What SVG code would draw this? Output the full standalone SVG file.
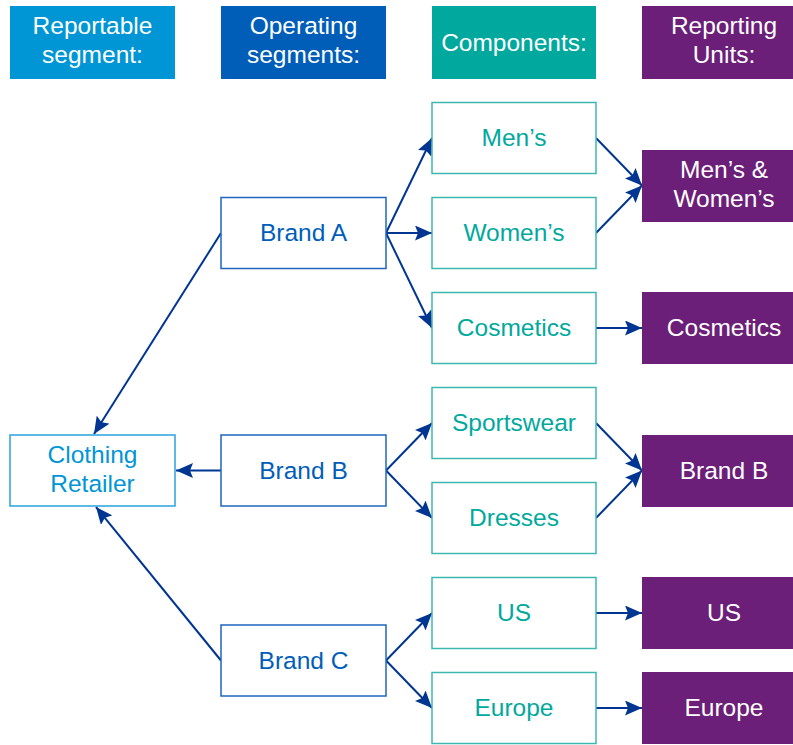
<svg xmlns="http://www.w3.org/2000/svg" width="793" height="745" viewBox="0 0 793 745">
<defs>
<marker id="ah" markerUnits="userSpaceOnUse" markerWidth="17" markerHeight="15" refX="17" refY="7.5" orient="auto">
<path d="M0,0 L17,7.5 L0,15 L3,7.5 Z" fill="#003591"/>
</marker>
<style>
text{font-family:"Liberation Sans",Arial,sans-serif;font-size:24.5px;text-anchor:middle}
.hdr text{fill:#ffffff}
.wt{fill:#ffffff}
.lb{fill:#0096D6}
.db{fill:#005EB8}
.tl{fill:#00A99D}
.n1 rect{fill:#ffffff;stroke:#29A3DD;stroke-width:1.5}
.n2 rect{fill:#ffffff;stroke:#1F66BD;stroke-width:1.5}
.n3 rect{fill:#ffffff;stroke:#3DB8B0;stroke-width:1.5}
.n4 rect{fill:#6C1F78}
#connectors line{stroke:#003591;stroke-width:2;marker-end:url(#ah)}
</style>
</defs>
<rect width="793" height="745" fill="#ffffff"/>
<g id="headers" class="hdr">
<g id="h1"><rect x="10" y="6" width="165" height="73" fill="#0096D6"/><text x="92.5" y="34">Reportable</text><text x="92.5" y="63">segment:</text></g>
<g id="h2"><rect x="221" y="6" width="165" height="73" fill="#005EB8"/><text x="303.5" y="34">Operating</text><text x="303.5" y="63">segments:</text></g>
<g id="h3"><rect x="432" y="6" width="164" height="73" fill="#00A89D"/><text x="514" y="50.5">Components:</text></g>
<g id="h4"><rect x="642" y="6" width="164" height="73" fill="#6C1F78"/><text x="724" y="34">Reporting</text><text x="724" y="63">Units:</text></g>
</g>
<g id="connectors">
<line x1="221" y1="233" x2="94" y2="434"/>
<line x1="221" y1="470.5" x2="176" y2="470.5"/>
<line x1="221" y1="660.5" x2="96" y2="507"/>
<line x1="386" y1="233" x2="432" y2="138"/>
<line x1="386" y1="233" x2="432" y2="233"/>
<line x1="386" y1="233" x2="432" y2="328"/>
<line x1="596" y1="138" x2="642" y2="185.5"/>
<line x1="596" y1="233" x2="642" y2="185.5"/>
<line x1="596" y1="328" x2="642" y2="328"/>
<line x1="386" y1="470.5" x2="432" y2="423"/>
<line x1="386" y1="470.5" x2="432" y2="518"/>
<line x1="596" y1="423" x2="642" y2="470.5"/>
<line x1="596" y1="518" x2="642" y2="470.5"/>
<line x1="386" y1="660.5" x2="432" y2="613"/>
<line x1="386" y1="660.5" x2="432" y2="708"/>
<line x1="596" y1="613" x2="642" y2="613"/>
<line x1="596" y1="708" x2="642" y2="708"/>
</g>
<g id="clothing-retailer" class="n1"><rect x="10" y="435" width="165" height="71"/><text class="lb" x="92.5" y="463">Clothing</text><text class="lb" x="92.5" y="492">Retailer</text></g>
<g id="brand-a" class="n2"><rect x="221" y="197.5" width="165" height="71"/><text class="db" x="303.5" y="241">Brand A</text></g>
<g id="brand-b" class="n2"><rect x="221" y="435" width="165" height="71"/><text class="db" x="303.5" y="478.5">Brand B</text></g>
<g id="brand-c" class="n2"><rect x="221" y="625" width="165" height="71"/><text class="db" x="303.5" y="668.5">Brand C</text></g>
<g id="mens" class="n3"><rect x="432" y="102.5" width="164" height="71"/><text class="tl" x="514" y="146">Men’s</text></g>
<g id="womens" class="n3"><rect x="432" y="197.5" width="164" height="71"/><text class="tl" x="514" y="241">Women’s</text></g>
<g id="cosmetics" class="n3"><rect x="432" y="292.5" width="164" height="71"/><text class="tl" x="514" y="336">Cosmetics</text></g>
<g id="sportswear" class="n3"><rect x="432" y="387.5" width="164" height="71"/><text class="tl" x="514" y="431">Sportswear</text></g>
<g id="dresses" class="n3"><rect x="432" y="482.5" width="164" height="71"/><text class="tl" x="514" y="526">Dresses</text></g>
<g id="us" class="n3"><rect x="432" y="577.5" width="164" height="71"/><text class="tl" x="514" y="621">US</text></g>
<g id="europe" class="n3"><rect x="432" y="672.5" width="164" height="71"/><text class="tl" x="514" y="716">Europe</text></g>
<g id="ru-mens-womens" class="n4"><rect x="642" y="150" width="164" height="72"/><text class="wt" x="724" y="177.5">Men’s &amp;</text><text class="wt" x="724" y="206.5">Women’s</text></g>
<g id="ru-cosmetics" class="n4"><rect x="642" y="292" width="164" height="72"/><text class="wt" x="724" y="336">Cosmetics</text></g>
<g id="ru-brand-b" class="n4"><rect x="642" y="435" width="164" height="72"/><text class="wt" x="724" y="478.5">Brand B</text></g>
<g id="ru-us" class="n4"><rect x="642" y="577" width="164" height="72"/><text class="wt" x="724" y="621">US</text></g>
<g id="ru-europe" class="n4"><rect x="642" y="672" width="164" height="72"/><text class="wt" x="724" y="716">Europe</text></g>
</svg>
